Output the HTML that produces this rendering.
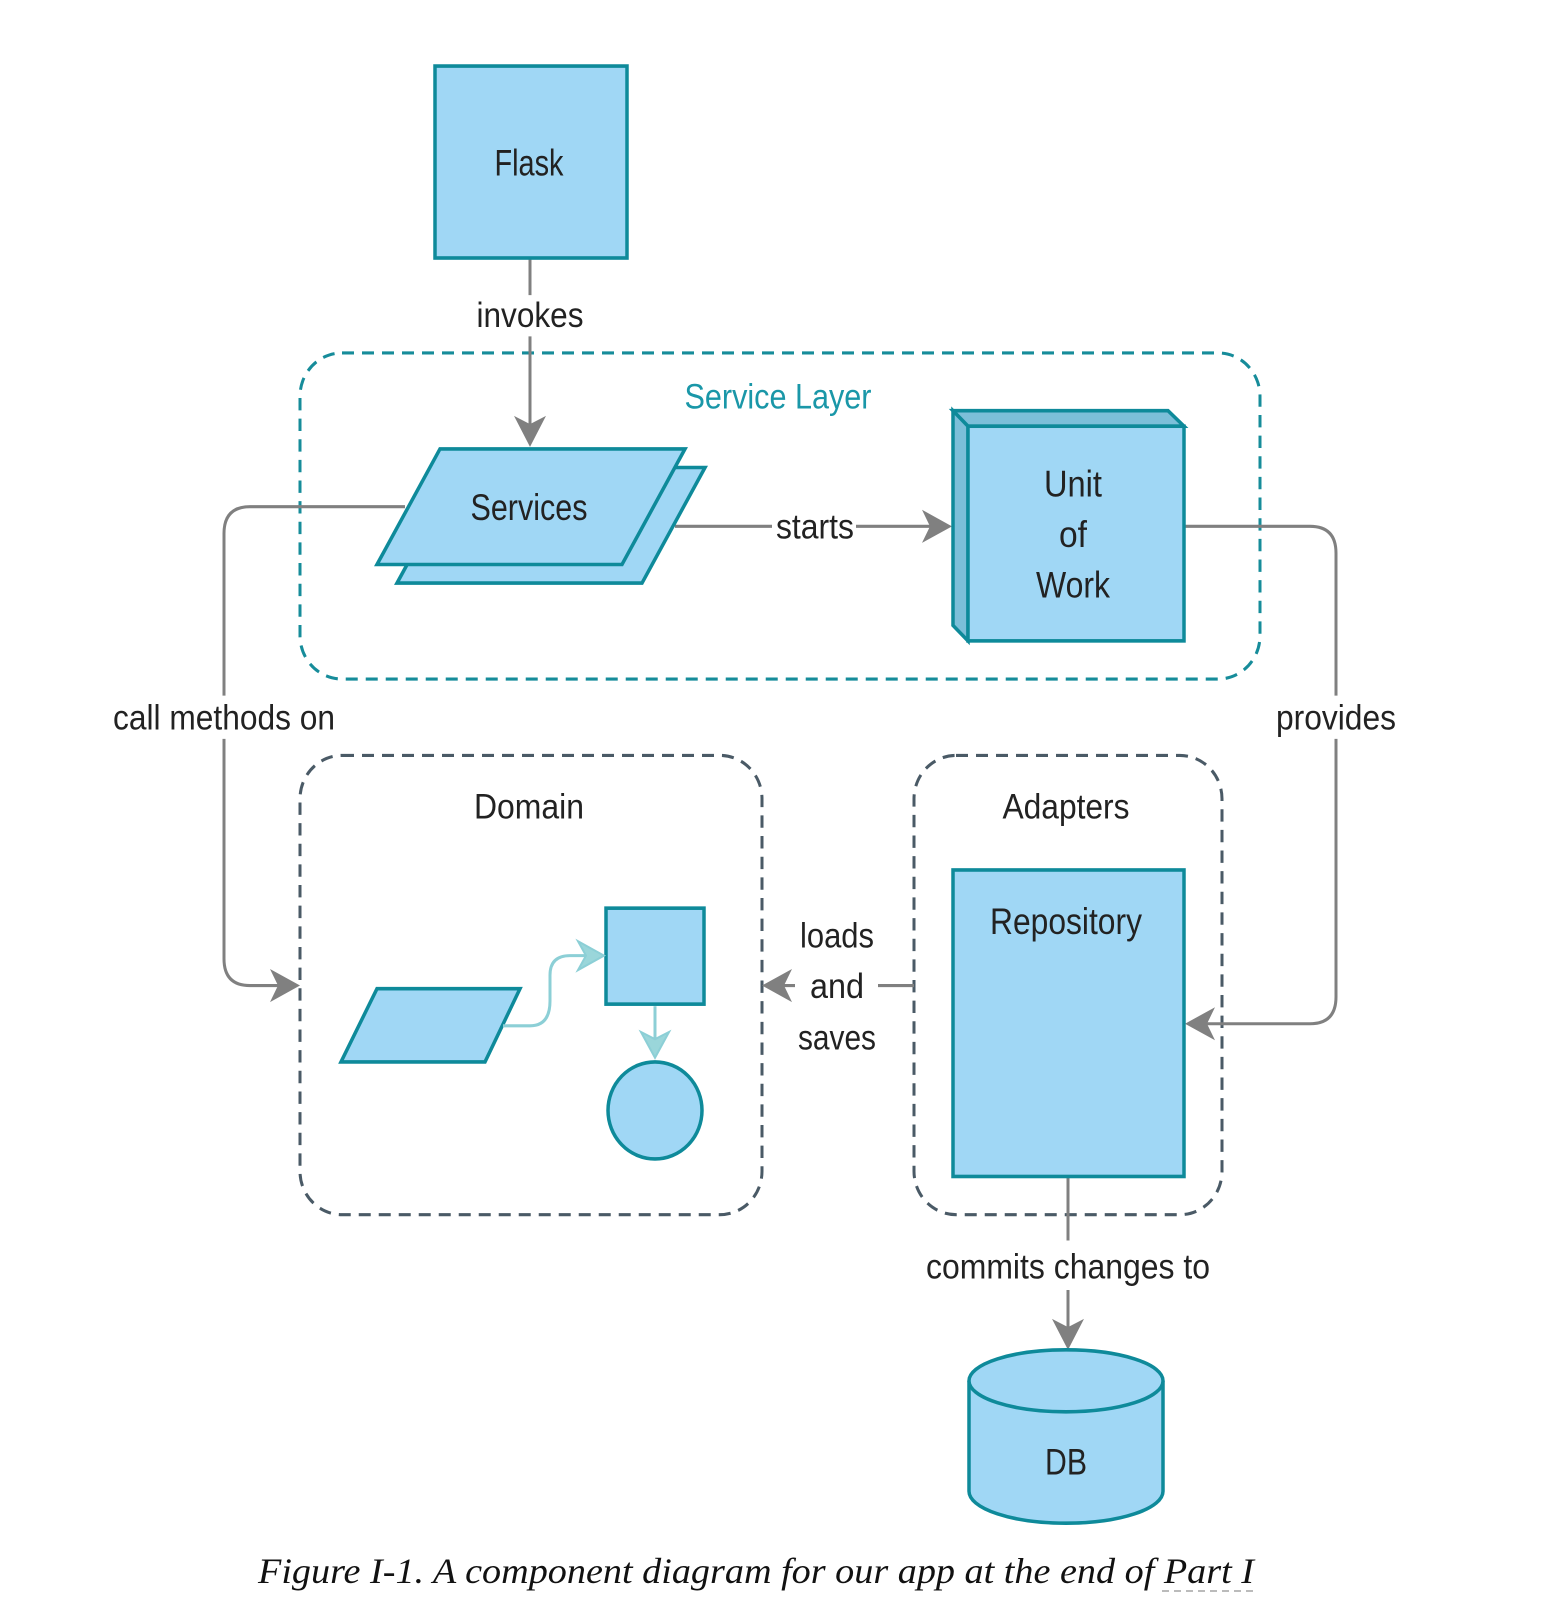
<!DOCTYPE html>
<html><head><meta charset="utf-8"><style>
html,body{margin:0;padding:0;background:#fff}
svg{display:block}
text{font-family:"Liberation Sans",sans-serif;fill:#222}
</style></head><body>
<svg width="1562" height="1614" viewBox="0 0 1562 1614" xmlns="http://www.w3.org/2000/svg">
<defs>
<marker id="ag" markerWidth="12" markerHeight="12" refX="10" refY="6" orient="auto" markerUnits="userSpaceOnUse" viewBox="0 0 12 12">
</marker>
</defs>
<g transform="scale(1,1.032)">
<!-- Service layer box -->
<rect x="300" y="342" width="960" height="316" rx="42" fill="none" stroke="#168c9a" stroke-width="3" stroke-dasharray="12,8"/>
<text x="778" y="396" font-size="34" text-anchor="middle" style="fill:#1a97a8" textLength="187" lengthAdjust="spacingAndGlyphs">Service Layer</text>
<!-- Domain / Adapters -->
<rect x="300" y="732" width="462" height="445" rx="42" fill="none" stroke="#4a5a66" stroke-width="3" stroke-dasharray="12,8"/>
<text x="529" y="793" font-size="34" text-anchor="middle" textLength="110" lengthAdjust="spacingAndGlyphs">Domain</text>
<rect x="914" y="732" width="308" height="445" rx="42" fill="none" stroke="#4a5a66" stroke-width="3" stroke-dasharray="12,8"/>
<text x="1066" y="793" font-size="34" text-anchor="middle" textLength="127" lengthAdjust="spacingAndGlyphs">Adapters</text>

<!-- Connectors -->
<g stroke="#808080" stroke-width="3" fill="none">
<path d="M530 250 V286 M530 326 V420"/>
<path d="M405 491 H250 Q224 491 224 517 V674 M224 716 V929 Q224 955 250 955 H285"/>
<path d="M675 510 H772 M856 510 H935"/>
<path d="M1184 510 H1310 Q1336 510 1336 536 V674 M1336 716 V966 Q1336 992 1310 992 H1200"/>
<path d="M914 955 H878 M795 955 H780"/>
<path d="M1068 1140 V1202 M1068 1250 V1292"/>
</g>
<g fill="#808080">
<polygon points="530,433 514,403 530,411 546,403"/>
<polygon points="300,955 270,939 278,955 270,971"/>
<polygon points="952,510 922,494 930,510 922,526"/>
<polygon points="1185,992 1215,976 1207,992 1215,1008"/>
<polygon points="762,955 792,939 784,955 792,971"/>
<polygon points="1068,1308 1052,1278 1068,1286 1084,1278"/>
</g>
<g font-size="34" text-anchor="middle">
<text x="530" y="317" textLength="107" lengthAdjust="spacingAndGlyphs">invokes</text>
<text x="224" y="707" textLength="222" lengthAdjust="spacingAndGlyphs">call methods on</text>
<text x="815" y="522" textLength="78" lengthAdjust="spacingAndGlyphs">starts</text>
<text x="1336" y="707" textLength="120" lengthAdjust="spacingAndGlyphs">provides</text>
<text x="837" y="918" textLength="74" lengthAdjust="spacingAndGlyphs">loads</text>
<text x="837" y="967" textLength="54" lengthAdjust="spacingAndGlyphs">and</text>
<text x="837" y="1017" textLength="78" lengthAdjust="spacingAndGlyphs">saves</text>
<text x="1068" y="1239" textLength="284" lengthAdjust="spacingAndGlyphs">commits changes to</text>
</g>

<g fill="#a0d7f5" stroke="#0e8a9a" stroke-width="3.5">
<!-- Flask -->
<rect x="435" y="64" width="192" height="186"/>
<!-- Services -->
<polygon points="460,453 705,453 642,565 397,565"/>
<polygon points="440,435 685,435 622,547 377,547"/>
<!-- UoW cube -->
<polygon points="953,398 1168,398 1184,413 968,413" fill="#7cbfd9"/>
<polygon points="953,398 968,413 968,621 953,606" fill="#7cbfd9"/>
<rect x="968" y="413" width="216" height="208"/>
<!-- Repository -->
<rect x="953" y="843" width="231" height="297"/>
<!-- Domain shapes -->
<polygon points="377,958 520,958 485,1029 341,1029"/>
<rect x="606" y="880" width="98" height="93"/>
<circle cx="655" cy="1076" r="47"/>
<!-- DB -->
<path d="M969 1338 V1445 A94 30 0 0 0 1163 1445 V1338"/>
<ellipse cx="1066" cy="1338" rx="97" ry="30"/>
</g>
<g stroke="#8ccfd6" stroke-width="3" fill="none">
<path d="M503 994 H530 Q550 994 550 970 V945 Q550 926 570 926 H590"/>
<path d="M655 975 V1010"/>
</g>
<g fill="#9ad6da" stroke="#8ccfd6" stroke-width="2">
<polygon points="604,926 578,912 586,926 578,940"/>
<polygon points="655,1025 641,1000 655,1007 669,1000"/>
</g>

<g font-size="36" text-anchor="middle">
<text x="529" y="170" textLength="69" lengthAdjust="spacingAndGlyphs">Flask</text>
<text x="529" y="504" textLength="117" lengthAdjust="spacingAndGlyphs">Services</text>
<text x="1073" y="481" textLength="58" lengthAdjust="spacingAndGlyphs">Unit</text>
<text x="1073" y="530" textLength="28" lengthAdjust="spacingAndGlyphs">of</text>
<text x="1073" y="579" textLength="74" lengthAdjust="spacingAndGlyphs">Work</text>
<text x="1066" y="905" textLength="152" lengthAdjust="spacingAndGlyphs">Repository</text>
<text x="1066" y="1429" textLength="42" lengthAdjust="spacingAndGlyphs">DB</text>
</g>
</g>
<text x="756" y="1583" font-size="36" text-anchor="middle" font-style="italic" style="font-family:'Liberation Serif',serif;fill:#111" textLength="996" lengthAdjust="spacingAndGlyphs">Figure I-1. A component diagram for our app at the end of Part I</text>
<line x1="1162" y1="1591" x2="1254" y2="1591" stroke="#bbb" stroke-width="2" stroke-dasharray="7,5"/>
</svg>
</body></html>
